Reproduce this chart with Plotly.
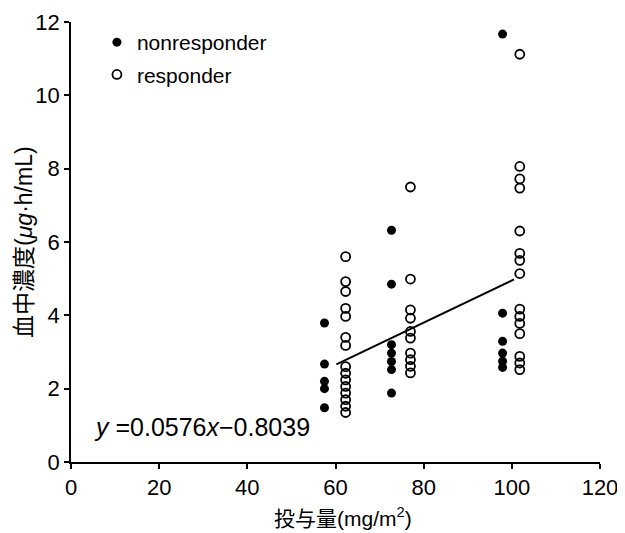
import plotly.graph_objects as go

# nonresponder (filled)
nr_x = [57.5, 57.5, 57.5, 57.5, 57.5,
        72.7, 72.7, 72.7, 72.7, 72.7, 72.7, 72.7,
        97.9, 97.9, 97.9, 97.9, 97.9, 97.9]
nr_y = [3.79, 2.67, 2.2, 2.0, 1.48,
        6.32, 4.85, 3.2, 2.97, 2.74, 2.52, 1.88,
        11.67, 4.06, 3.29, 2.97, 2.75, 2.58]

# responder (open)
r_x = [62.3] * 15 + [77.0] * 10 + [101.8] * 15
r_y = [5.6, 4.92, 4.65, 4.19, 3.97, 3.4, 3.18, 2.6, 2.42, 2.24, 2.06, 1.88, 1.7, 1.52, 1.35,
       7.5, 4.99, 4.15, 3.92, 3.56, 3.38, 2.97, 2.79, 2.61, 2.43,
       11.12, 8.06, 7.72, 7.47, 6.3, 5.69, 5.5, 5.14, 4.17, 3.97, 3.78, 3.5, 2.88, 2.7, 2.52]

# regression line endpoints (y = 0.0576x - 0.8039)
line_x = [60.2, 100.5]
line_y = [2.66, 4.98]

x_ticks = [0, 20, 40, 60, 80, 100, 120]
y_ticks = [0, 2, 4, 6, 8, 10, 12]

FONT = "Liberation Sans, Arial, Noto Sans CJK JP, sans-serif"
TFONT = "Liberation Sans, Noto Sans CJK JP, sans-serif"

fig = go.Figure()
fig.add_trace(go.Scatter(x=line_x, y=line_y, mode="lines",
                         line=dict(color="black", width=2), showlegend=False,
                         hoverinfo="skip"))
fig.add_trace(go.Scatter(x=nr_x, y=nr_y, mode="markers", name="nonresponder",
                         legendgroup="a",
                         marker=dict(symbol="circle", size=9, color="black",
                                     line=dict(color="black", width=0)),
                         cliponaxis=False))
fig.add_trace(go.Scatter(x=r_x, y=r_y, mode="markers", name="responder",
                         legendgroup="b",
                         marker=dict(symbol="circle-open", size=9, color="black",
                                     line=dict(color="black", width=1.8)),
                         cliponaxis=False))

fig.add_annotation(x=4.7, y=0.95, xref="x", yref="y", xanchor="left", yanchor="middle",
                   text="<i>y</i> =0.0576<i>x</i>\u22120.8039", showarrow=False,
                   font=dict(family=FONT, size=25, color="black"))

# axis titles
fig.add_annotation(x=0.514, y=-0.125, xref="paper", yref="paper",
                   xanchor="center", yanchor="middle", showarrow=False,
                   text="投与量(mg/m<sup>2</sup>)",
                   font=dict(family=TFONT, size=21, color="black"))
fig.add_annotation(x=-0.089, y=0.5, xref="paper", yref="paper", textangle=-90,
                   xanchor="center", yanchor="middle", showarrow=False,
                   text="血中濃度(<i>μg</i>·h/mL)",
                   font=dict(family=TFONT, size=23, color="black"))

fig.update_layout(
    width=617, height=525,
    margin=dict(l=63, r=25, t=14, b=71),
    paper_bgcolor="white", plot_bgcolor="white",
    font=dict(family=FONT, color="black"),
    showlegend=True,
    legend=dict(x=0.049, y=1.0, xanchor="left", yanchor="top",
                font=dict(family=FONT, size=21, color="black"),
                bgcolor="rgba(0,0,0,0)", tracegroupgap=2, itemwidth=30),
    xaxis=dict(range=[0, 120], tickvals=x_ticks, ticks="outside", ticklen=5,
               tickwidth=1.5, tickcolor="black", showline=True, linecolor="black",
               linewidth=1.5, showgrid=False, zeroline=False, automargin=False,
               tickfont=dict(family=FONT, size=22, color="black")),
    yaxis=dict(range=[0, 12], tickvals=y_ticks, ticks="outside", ticklen=5,
               tickwidth=1.5, tickcolor="black", showline=True, linecolor="black",
               linewidth=1.5, showgrid=False, zeroline=False, automargin=False,
               tickfont=dict(family=FONT, size=22, color="black")),
)

fig.write_html("out.html")
